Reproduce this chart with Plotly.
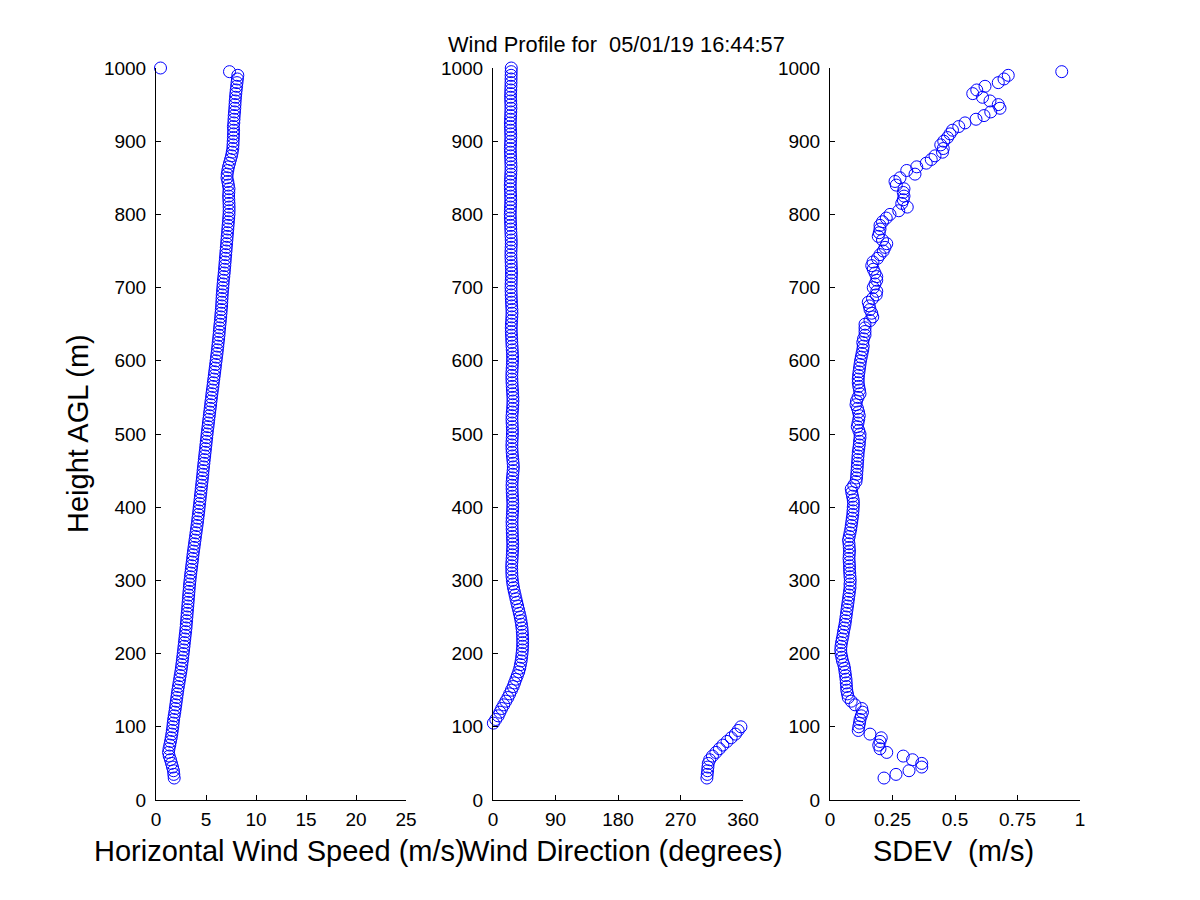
import plotly.graph_objects as go

# ---------------- data ----------------
heights = [
    30, 35, 40, 45, 50, 55, 60, 65, 70, 75,
    80, 85, 90, 95, 100, 105, 110, 115, 120, 125,
    130, 135, 140, 145, 150, 155, 160, 165, 170, 175,
    180, 185, 190, 195, 200, 205, 210, 215, 220, 225,
    230, 235, 240, 245, 250, 255, 260, 265, 270, 275,
    280, 285, 290, 295, 300, 305, 310, 315, 320, 325,
    330, 335, 340, 345, 350, 355, 360, 365, 370, 375,
    380, 385, 390, 395, 400, 405, 410, 415, 420, 425,
    430, 435, 440, 445, 450, 455, 460, 465, 470, 475,
    480, 485, 490, 495, 500, 505, 510, 515, 520, 525,
    530, 535, 540, 545, 550, 555, 560, 565, 570, 575,
    580, 585, 590, 595, 600, 605, 610, 615, 620, 625,
    630, 635, 640, 645, 650, 655, 660, 665, 670, 675,
    680, 685, 690, 695, 700, 705, 710, 715, 720, 725,
    730, 735, 740, 745, 750, 755, 760, 765, 770, 775,
    780, 785, 790, 795, 800, 805, 810, 815, 820, 825,
    830, 835, 840, 845, 850, 855, 860, 865, 870, 875,
    880, 885, 890, 895, 900, 905, 910, 915, 920, 925,
    930, 935, 940, 945, 950, 955, 960, 965, 970, 975,
    980, 985, 990, 995, 1000,
]

wind_speed = [
    1.82, 1.78, 1.75, 1.65, 1.55, 1.45, 1.32, 1.25, 1.30, 1.38,
    1.45, 1.52, 1.58, 1.63, 1.68, 1.72, 1.76, 1.82, 1.88, 1.93,
    1.98, 2.03, 2.08, 2.13, 2.18, 2.24, 2.30, 2.36, 2.42, 2.48,
    2.54, 2.58, 2.63, 2.67, 2.72, 2.76, 2.80, 2.84, 2.88, 2.92,
    2.96, 3.00, 3.03, 3.06, 3.09, 3.12, 3.15, 3.18, 3.21, 3.24,
    3.27, 3.30, 3.33, 3.36, 3.40, 3.44, 3.48, 3.53, 3.57, 3.62,
    3.66, 3.70, 3.75, 3.80, 3.85, 3.90, 3.95, 4.00, 4.05, 4.10,
    4.15, 4.19, 4.24, 4.28, 4.32, 4.36, 4.40, 4.44, 4.48, 4.52,
    4.56, 4.60, 4.64, 4.68, 4.71, 4.75, 4.79, 4.83, 4.87, 4.91,
    4.95, 4.99, 5.03, 5.07, 5.11, 5.15, 5.20, 5.24, 5.28, 5.33,
    5.37, 5.42, 5.46, 5.50, 5.55, 5.59, 5.64, 5.69, 5.73, 5.78,
    5.83, 5.87, 5.92, 5.96, 6.01, 6.05, 6.10, 6.14, 6.18, 6.22,
    6.26, 6.30, 6.33, 6.36, 6.40, 6.44, 6.47, 6.50, 6.53, 6.56,
    6.58, 6.60, 6.62, 6.65, 6.68, 6.71, 6.74, 6.78, 6.82, 6.85,
    6.88, 6.91, 6.94, 6.97, 7.00, 7.03, 7.06, 7.09, 7.12, 7.15,
    7.18, 7.21, 7.24, 7.27, 7.30, 7.31, 7.31, 7.30, 7.28, 7.26,
    7.28, 7.30, 7.24, 7.18, 7.10, 7.12, 7.18, 7.25, 7.35, 7.45,
    7.55, 7.62, 7.68, 7.70, 7.72, 7.74, 7.75, 7.76, 7.74, 7.78,
    7.80, 7.82, 7.85, 7.88, 7.90, 7.92, 7.95, 7.98, 8.02, 8.06,
    8.10, 8.14, 8.18, 7.35, 0.45,
]

wind_direction = [
    308, 308.5, 309, 309.5, 310, 312, 316, 321, 326, 331,
    337, 343, 349, 353, 357, 0.5, 4, 7.5, 10, 12.5,
    15.5, 18.5, 21.5, 24, 26.5, 29, 31, 33, 35, 37,
    38.5, 39.5, 40.5, 41.2, 41.8, 42.3, 42.6, 42.7, 42.7, 42.5,
    42.2, 41.7, 41, 40.2, 39.2, 38, 36.8, 35.5, 34.2, 33,
    31.8, 30.6, 29.5, 28.6, 27.9, 27.4, 27.1, 27, 26.9, 27.2,
    27.5, 27.8, 28.1, 28.3, 28.4, 28.2, 28, 27.8, 27.6, 27.5,
    27.4, 27.6, 27.9, 28.2, 28.4, 28.5, 28.3, 28, 27.7, 27.5,
    27.4, 27.6, 28.0, 28.5, 29.0, 29.3, 29.0, 28.5, 28.0, 27.6,
    27.3, 27.2, 27.4, 27.7, 27.9, 28.0, 27.8, 27.5, 27.3, 27.4,
    27.8, 28.2, 28.5, 28.7, 28.6, 28.3, 28.0, 27.7, 27.4, 27.2,
    27.1, 27.3, 27.6, 27.9, 28.1, 28.2, 28.0, 27.7, 27.4, 27.1,
    26.9, 26.6, 26.4, 26.3, 26.5, 26.8, 27.1, 27.3, 27.2, 26.9,
    26.6, 26.4, 26.2, 26.1, 26.0, 26.1, 26.3, 26.5, 26.6, 26.5,
    26.3, 26.1, 25.9, 25.8, 25.9, 26.1, 26.3, 26.2, 26.0, 25.8,
    25.6, 25.4, 25.2, 25.0, 24.9, 25.0, 25.2, 25.4, 25.5, 25.4,
    25.2, 25.0, 24.9, 25.1, 25.3, 25.6, 25.8, 25.9, 25.7, 25.5,
    25.3, 25.1, 25.0, 25.2, 25.4, 25.6, 25.5, 25.3, 25.1, 25.0,
    25.2, 25.4, 25.6, 25.8, 25.7, 25.5, 25.3, 25.4, 25.6, 25.8,
    25.9, 26.0, 26.1, 26.2, 26.3,
]

sdev = [
    0.216, 0.264, 0.316, 0.367, 0.367, 0.330, 0.293, 0.227, 0.200, 0.195,
    0.200, 0.205, 0.160, 0.113, 0.115, 0.118, 0.120, 0.125, 0.130, 0.127,
    0.100, 0.085, 0.073, 0.070, 0.067, 0.066, 0.065, 0.064, 0.062, 0.060,
    0.058, 0.055, 0.050, 0.047, 0.044, 0.043, 0.044, 0.046, 0.049, 0.052,
    0.054, 0.057, 0.060, 0.062, 0.064, 0.066, 0.068, 0.070, 0.072, 0.074,
    0.076, 0.078, 0.080, 0.080, 0.081, 0.080, 0.079, 0.078, 0.078, 0.077,
    0.076, 0.077, 0.078, 0.077, 0.076, 0.074, 0.077, 0.080, 0.083, 0.085,
    0.087, 0.089, 0.091, 0.092, 0.093, 0.094, 0.093, 0.090, 0.087, 0.085,
    0.095, 0.104, 0.106, 0.107, 0.108, 0.109, 0.110, 0.111, 0.112, 0.113,
    0.115, 0.117, 0.118, 0.120, 0.120, 0.115, 0.109, 0.112, 0.115, 0.117,
    0.114, 0.110, 0.104, 0.106, 0.112, 0.120, 0.118, 0.115, 0.113, 0.113,
    0.114, 0.116, 0.118, 0.120, 0.122, 0.125, 0.128, 0.131, 0.133, 0.131,
    0.134, 0.140, 0.140, 0.140, 0.140, 0.160, 0.171, 0.167, 0.160, 0.157,
    0.153, 0.170, 0.185, 0.187, 0.173, 0.180, 0.187, 0.187, 0.180, 0.173,
    0.167, 0.172, 0.190, 0.200, 0.213, 0.220, 0.227, 0.210, 0.193, 0.197,
    0.200, 0.200, 0.210, 0.225, 0.240, 0.275, 0.309, 0.287, 0.293, 0.296,
    0.293, 0.296, 0.265, 0.260, 0.280, 0.340, 0.307, 0.347, 0.385, 0.405,
    0.420, 0.450, 0.453, 0.443, 0.455, 0.470, 0.480, 0.490, 0.515, 0.540,
    0.584, 0.616, 0.643, 0.680, 0.673, 0.640, 0.610, 0.571, 0.587, 0.620,
    0.673, 0.696, 0.713, 0.927, None,
]

speed_ticks = [0, 5, 10, 15, 20, 25]
dir_ticks = [0, 90, 180, 270, 360]
sdev_ticks = [0, 0.25, 0.5, 0.75, 1]
sdev_tick_text = ["0", "0.25", "0.5", "0.75", "1"]
height_ticks = [0, 100, 200, 300, 400, 500, 600, 700, 800, 900, 1000]

title_text = "Wind Profile for&nbsp; 05/01/19 16:44:57"

# ---------------- figure ----------------
W, H = 1200, 900
PAGE_OFFSET = 8  # default body margin of the html page
FONT = "Liberation Sans, Arial, Helvetica, sans-serif"
BLUE = "#0000ff"

def px_x(p):
    return (p - PAGE_OFFSET) / W

def px_y(p):
    return 1 - (p - PAGE_OFFSET) / H

marker = dict(symbol="circle-open", size=12, color=BLUE, line=dict(width=1, color=BLUE))

fig = go.Figure()
fig.add_trace(go.Scatter(x=wind_speed, y=heights, mode="markers", marker=marker,
                         xaxis="x", yaxis="y", cliponaxis=False, showlegend=False))
fig.add_trace(go.Scatter(x=wind_direction, y=heights, mode="markers", marker=marker,
                         xaxis="x2", yaxis="y2", cliponaxis=False, showlegend=False))
fig.add_trace(go.Scatter(x=sdev, y=heights, mode="markers", marker=marker,
                         xaxis="x3", yaxis="y3", cliponaxis=False, showlegend=False))

common = dict(showline=True, linecolor="black", linewidth=1, mirror=False,
              ticks="inside", ticklen=5, tickcolor="black", tickwidth=1,
              showgrid=False, zeroline=False, automargin=False,
              tickfont=dict(family=FONT, size=19, color="black"))

ydom = [px_y(800), px_y(68)]
XSTAND = 2
YSTAND = 5

fig.update_layout(
    template="none",
    width=W, height=H, autosize=False,
    margin=dict(l=0, r=0, t=0, b=0, pad=0),
    paper_bgcolor="white", plot_bgcolor="white",
    showlegend=False,
    xaxis=dict(domain=[px_x(156), px_x(406)], range=[0, 25], tickvals=speed_ticks,
               anchor="y", ticklabelstandoff=XSTAND, **common),
    xaxis2=dict(domain=[px_x(493), px_x(743)], range=[0, 360], tickvals=dir_ticks,
                anchor="y2", ticklabelstandoff=XSTAND, **common),
    xaxis3=dict(domain=[px_x(830), px_x(1080)], range=[0, 1], tickvals=sdev_ticks,
                ticktext=sdev_tick_text, anchor="y3", ticklabelstandoff=XSTAND, **common),
    yaxis=dict(domain=ydom, range=[0, 1000], tickvals=height_ticks, anchor="x",
               ticklabelstandoff=YSTAND, **common),
    yaxis2=dict(domain=ydom, range=[0, 1000], tickvals=height_ticks, anchor="x2",
                ticklabelstandoff=YSTAND, **common),
    yaxis3=dict(domain=ydom, range=[0, 1000], tickvals=height_ticks, anchor="x3",
                ticklabelstandoff=YSTAND, **common),
)

annotations = [
    dict(text=title_text, x=px_x(617), y=px_y(44), font=dict(size=21.8)),
    dict(text="Horizontal Wind Speed (m/s)", x=px_x(279), y=px_y(851), font=dict(size=29)),
    dict(text="Wind Direction (degrees)", x=px_x(622), y=px_y(851), font=dict(size=29)),
    dict(text="SDEV&nbsp; (m/s)", x=px_x(953), y=px_y(851), font=dict(size=29)),
    dict(text="Height AGL (m)", x=px_x(78), y=px_y(434), font=dict(size=29), textangle=-90),
]
for a in annotations:
    a.update(xref="paper", yref="paper", showarrow=False, xanchor="center", yanchor="middle")
    a["font"].update(family=FONT, color="black")
fig.update_layout(annotations=annotations)

fig.write_html("out.html")
